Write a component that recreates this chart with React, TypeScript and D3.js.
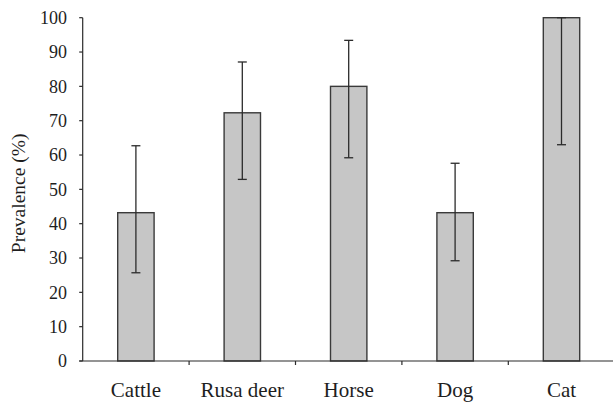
import React from "react";
import * as d3 from "d3";

const categories = ["Cattle", "Rusa deer", "Horse", "Dog", "Cat"];
const prevalence = [43.2, 72.3, 80.0, 43.2, 100];
const ciUpper = [62.7, 87.1, 93.4, 57.6, 100];
const ciLower = [25.7, 52.9, 59.2, 29.2, 63.0];
const yTicks = [0, 10, 20, 30, 40, 50, 60, 70, 80, 90, 100];

const W = 613;
const H = 402;
const axisX = 82.7;
const axisY = 361;
const top = 17.7;
const plotRight = 614.7;

export default function App() {
  const x = d3.scaleBand<string>().domain(categories).range([axisX, plotRight]).padding(0);
  const y = d3.scaleLinear().domain([0, 100]).range([axisY, top]);
  const bw = x.bandwidth();
  const barW = bw * 0.342;
  const cap = 4.5;
  const ink = "#2b2b2b";
  const fontStyle = { fontFamily: "'Liberation Serif', 'Times New Roman', serif" };

  return (
    <svg
      width={W}
      height={H}
      style={{ position: "absolute", left: 0, top: 0, display: "block", background: "#fff" }}
    >
      {categories.map((c, i) => {
        const cx = (x(c) as number) + bw / 2;
        return (
          <g key={c}>
            <rect
              x={cx - barW / 2}
              y={y(prevalence[i])}
              width={barW}
              height={y(0) - y(prevalence[i])}
              fill="#c6c6c6"
              stroke="#3a3a3a"
              strokeWidth={1.4}
            />
            <line x1={cx} x2={cx} y1={y(ciUpper[i])} y2={y(ciLower[i])} stroke={ink} strokeWidth={1.3} />
            <line x1={cx - cap} x2={cx + cap} y1={y(ciUpper[i])} y2={y(ciUpper[i])} stroke={ink} strokeWidth={1.3} />
            <line x1={cx - cap} x2={cx + cap} y1={y(ciLower[i])} y2={y(ciLower[i])} stroke={ink} strokeWidth={1.3} />
            <text x={cx} y={396.7} textAnchor="middle" style={fontStyle} fontSize={21} fill="#1e1e1e">
              {c}
            </text>
          </g>
        );
      })}
      <line x1={axisX} x2={axisX} y1={y(100)} y2={axisY} stroke={ink} strokeWidth={1.2} />
      {yTicks.map((t) => (
        <g key={t}>
          <line x1={axisX - 3.5} x2={axisX} y1={y(t)} y2={y(t)} stroke={ink} strokeWidth={1.2} />
          <text x={67} y={y(t)} dy="0.35em" textAnchor="end" style={fontStyle} fontSize={18} fill="#1e1e1e">
            {t}
          </text>
        </g>
      ))}
      <line x1={axisX - 3.5} x2={W} y1={axisY} y2={axisY} stroke={ink} strokeWidth={1.2} />
      {categories.slice(1).map((c) => (
        <line
          key={"t" + c}
          x1={x(c) as number}
          x2={x(c) as number}
          y1={axisY}
          y2={axisY + 4}
          stroke={ink}
          strokeWidth={1.2}
        />
      ))}
      <text
        transform={`translate(24.5, ${(y(0) + y(100)) / 2 + 4}) rotate(-90)`}
        textAnchor="middle"
        style={fontStyle}
        fontSize={19.5}
        fill="#1e1e1e"
      >
        Prevalence (%)
      </text>
    </svg>
  );
}
